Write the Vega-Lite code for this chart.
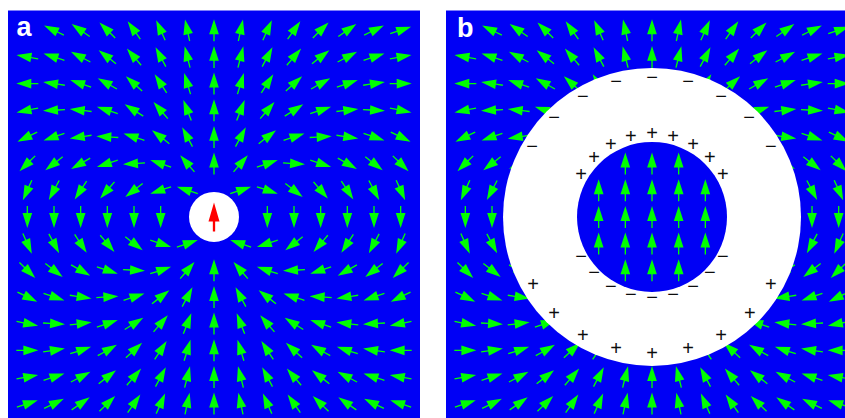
{"$schema":"https://vega.github.io/schema/vega-lite/v6.json","padding":{"left":8,"top":10.5,"right":0,"bottom":0},"background":"white","spacing":26,"bounds":"flush","config":{"view":{"fill":"#0000f5","stroke":null},"axis":{"grid":false}},
"datasets":{"field":[
{"x":-6,"y":7,"a":-63.8},{"x":-5,"y":7,"a":-55.2},{"x":-4,"y":7,"a":-45.7},{"x":-3,"y":7,"a":-35.3},{"x":-2,"y":7,"a":-24.1},{"x":-1,"y":7,"a":-12.2},{"x":0,"y":7,"a":0},{"x":1,"y":7,"a":12.2},{"x":2,"y":7,"a":24.1},{"x":3,"y":7,"a":35.3},{"x":4,"y":7,"a":45.7},{"x":5,"y":7,"a":55.2},{"x":6,"y":7,"a":63.8},{"x":7,"y":7,"a":71.6},
{"x":-7,"y":6,"a":-79.7},{"x":-6,"y":6,"a":-71.6},{"x":-5,"y":6,"a":-62.4},{"x":-4,"y":6,"a":-52.1},{"x":-3,"y":6,"a":-40.6},{"x":-2,"y":6,"a":-27.9},{"x":-1,"y":6,"a":-14.2},{"x":0,"y":6,"a":0},{"x":1,"y":6,"a":14.2},{"x":2,"y":6,"a":27.9},{"x":3,"y":6,"a":40.6},{"x":4,"y":6,"a":52.1},{"x":5,"y":6,"a":62.4},{"x":6,"y":6,"a":71.6},{"x":7,"y":6,"a":79.7},
{"x":-7,"y":5,"a":-89.5},{"x":-6,"y":5,"a":-81.2},{"x":-5,"y":5,"a":-71.6},{"x":-4,"y":5,"a":-60.5},{"x":-3,"y":5,"a":-47.7},{"x":-2,"y":5,"a":-33.1},{"x":-1,"y":5,"a":-17},{"x":0,"y":5,"a":0},{"x":1,"y":5,"a":17},{"x":2,"y":5,"a":33.1},{"x":3,"y":5,"a":47.7},{"x":4,"y":5,"a":60.5},{"x":5,"y":5,"a":71.6},{"x":6,"y":5,"a":81.2},{"x":7,"y":5,"a":89.5},
{"x":-7,"y":4,"a":-101.4},{"x":-6,"y":4,"a":-93.2},{"x":-5,"y":4,"a":-83.4},{"x":-4,"y":4,"a":-71.6},{"x":-3,"y":4,"a":-57.4},{"x":-2,"y":4,"a":-40.6},{"x":-1,"y":4,"a":-21.2},{"x":0,"y":4,"a":0},{"x":1,"y":4,"a":21.2},{"x":2,"y":4,"a":40.6},{"x":3,"y":4,"a":57.4},{"x":4,"y":4,"a":71.6},{"x":5,"y":4,"a":83.4},{"x":6,"y":4,"a":93.2},{"x":7,"y":4,"a":101.4},
{"x":-7,"y":3,"a":-116.2},{"x":-6,"y":3,"a":-108.4},{"x":-5,"y":3,"a":-98.8},{"x":-4,"y":3,"a":-86.8},{"x":-3,"y":3,"a":-71.6},{"x":-2,"y":3,"a":-52.1},{"x":-1,"y":3,"a":-27.9},{"x":0,"y":3,"a":0},{"x":1,"y":3,"a":27.9},{"x":2,"y":3,"a":52.1},{"x":3,"y":3,"a":71.6},{"x":4,"y":3,"a":86.8},{"x":5,"y":3,"a":98.8},{"x":6,"y":3,"a":108.4},{"x":7,"y":3,"a":116.2},
{"x":-7,"y":2,"a":-134.3},{"x":-6,"y":2,"a":-127.9},{"x":-5,"y":2,"a":-119.5},{"x":-4,"y":2,"a":-108.4},{"x":-3,"y":2,"a":-93.2},{"x":-2,"y":2,"a":-71.6},{"x":-1,"y":2,"a":-40.6},{"x":0,"y":2,"a":0},{"x":1,"y":2,"a":40.6},{"x":2,"y":2,"a":71.6},{"x":3,"y":2,"a":93.2},{"x":4,"y":2,"a":108.4},{"x":5,"y":2,"a":119.5},{"x":6,"y":2,"a":127.9},{"x":7,"y":2,"a":134.3},
{"x":-7,"y":1,"a":-155.9},{"x":-6,"y":1,"a":-152.1},{"x":-5,"y":1,"a":-146.9},{"x":-4,"y":1,"a":-139.4},{"x":-3,"y":1,"a":-127.9},{"x":-2,"y":1,"a":-108.4},{"x":-1,"y":1,"a":-71.6},{"x":1,"y":1,"a":71.6},{"x":2,"y":1,"a":108.4},{"x":3,"y":1,"a":127.9},{"x":4,"y":1,"a":139.4},{"x":5,"y":1,"a":146.9},{"x":6,"y":1,"a":152.1},{"x":7,"y":1,"a":155.9},
{"x":-7,"y":0,"a":180},{"x":-6,"y":0,"a":180},{"x":-5,"y":0,"a":180},{"x":-4,"y":0,"a":180},{"x":-3,"y":0,"a":180},{"x":-2,"y":0,"a":180},{"x":2,"y":0,"a":180},{"x":3,"y":0,"a":180},{"x":4,"y":0,"a":180},{"x":5,"y":0,"a":180},{"x":6,"y":0,"a":180},{"x":7,"y":0,"a":180},
{"x":-7,"y":-1,"a":155.9},{"x":-6,"y":-1,"a":152.1},{"x":-5,"y":-1,"a":146.9},{"x":-4,"y":-1,"a":139.4},{"x":-3,"y":-1,"a":127.9},{"x":-2,"y":-1,"a":108.4},{"x":-1,"y":-1,"a":71.6},{"x":1,"y":-1,"a":-71.6},{"x":2,"y":-1,"a":-108.4},{"x":3,"y":-1,"a":-127.9},{"x":4,"y":-1,"a":-139.4},{"x":5,"y":-1,"a":-146.9},{"x":6,"y":-1,"a":-152.1},{"x":7,"y":-1,"a":-155.9},
{"x":-7,"y":-2,"a":134.3},{"x":-6,"y":-2,"a":127.9},{"x":-5,"y":-2,"a":119.5},{"x":-4,"y":-2,"a":108.4},{"x":-3,"y":-2,"a":93.2},{"x":-2,"y":-2,"a":71.6},{"x":-1,"y":-2,"a":40.6},{"x":0,"y":-2,"a":0},{"x":1,"y":-2,"a":-40.6},{"x":2,"y":-2,"a":-71.6},{"x":3,"y":-2,"a":-93.2},{"x":4,"y":-2,"a":-108.4},{"x":5,"y":-2,"a":-119.5},{"x":6,"y":-2,"a":-127.9},{"x":7,"y":-2,"a":-134.3},
{"x":-7,"y":-3,"a":116.2},{"x":-6,"y":-3,"a":108.4},{"x":-5,"y":-3,"a":98.8},{"x":-4,"y":-3,"a":86.8},{"x":-3,"y":-3,"a":71.6},{"x":-2,"y":-3,"a":52.1},{"x":-1,"y":-3,"a":27.9},{"x":0,"y":-3,"a":0},{"x":1,"y":-3,"a":-27.9},{"x":2,"y":-3,"a":-52.1},{"x":3,"y":-3,"a":-71.6},{"x":4,"y":-3,"a":-86.8},{"x":5,"y":-3,"a":-98.8},{"x":6,"y":-3,"a":-108.4},{"x":7,"y":-3,"a":-116.2},
{"x":-7,"y":-4,"a":101.4},{"x":-6,"y":-4,"a":93.2},{"x":-5,"y":-4,"a":83.4},{"x":-4,"y":-4,"a":71.6},{"x":-3,"y":-4,"a":57.4},{"x":-2,"y":-4,"a":40.6},{"x":-1,"y":-4,"a":21.2},{"x":0,"y":-4,"a":0},{"x":1,"y":-4,"a":-21.2},{"x":2,"y":-4,"a":-40.6},{"x":3,"y":-4,"a":-57.4},{"x":4,"y":-4,"a":-71.6},{"x":5,"y":-4,"a":-83.4},{"x":6,"y":-4,"a":-93.2},{"x":7,"y":-4,"a":-101.4},
{"x":-7,"y":-5,"a":89.5},{"x":-6,"y":-5,"a":81.2},{"x":-5,"y":-5,"a":71.6},{"x":-4,"y":-5,"a":60.5},{"x":-3,"y":-5,"a":47.7},{"x":-2,"y":-5,"a":33.1},{"x":-1,"y":-5,"a":17},{"x":0,"y":-5,"a":0},{"x":1,"y":-5,"a":-17},{"x":2,"y":-5,"a":-33.1},{"x":3,"y":-5,"a":-47.7},{"x":4,"y":-5,"a":-60.5},{"x":5,"y":-5,"a":-71.6},{"x":6,"y":-5,"a":-81.2},{"x":7,"y":-5,"a":-89.5},
{"x":-7,"y":-6,"a":79.7},{"x":-6,"y":-6,"a":71.6},{"x":-5,"y":-6,"a":62.4},{"x":-4,"y":-6,"a":52.1},{"x":-3,"y":-6,"a":40.6},{"x":-2,"y":-6,"a":27.9},{"x":-1,"y":-6,"a":14.2},{"x":0,"y":-6,"a":0},{"x":1,"y":-6,"a":-14.2},{"x":2,"y":-6,"a":-27.9},{"x":3,"y":-6,"a":-40.6},{"x":4,"y":-6,"a":-52.1},{"x":5,"y":-6,"a":-62.4},{"x":6,"y":-6,"a":-71.6},{"x":7,"y":-6,"a":-79.7},
{"x":-7,"y":-7,"a":71.6},{"x":-6,"y":-7,"a":63.8},{"x":-5,"y":-7,"a":55.2},{"x":-4,"y":-7,"a":45.7},{"x":-3,"y":-7,"a":35.3},{"x":-2,"y":-7,"a":24.1},{"x":-1,"y":-7,"a":12.2},{"x":0,"y":-7,"a":0},{"x":1,"y":-7,"a":-12.2},{"x":2,"y":-7,"a":-24.1},{"x":3,"y":-7,"a":-35.3},{"x":4,"y":-7,"a":-45.7},{"x":5,"y":-7,"a":-55.2},{"x":6,"y":-7,"a":-63.8},{"x":7,"y":-7,"a":-71.6}
],
"inner":[
{"x":-1,"y":2,"a":0},{"x":0,"y":2,"a":0},{"x":1,"y":2,"a":0},
{"x":-2,"y":1,"a":0},{"x":-1,"y":1,"a":0},{"x":0,"y":1,"a":0},{"x":1,"y":1,"a":0},{"x":2,"y":1,"a":0},
{"x":-2,"y":0,"a":0},{"x":-1,"y":0,"a":0},{"x":0,"y":0,"a":0},{"x":1,"y":0,"a":0},{"x":2,"y":0,"a":0},
{"x":-2,"y":-1,"a":0},{"x":-1,"y":-1,"a":0},{"x":0,"y":-1,"a":0},{"x":1,"y":-1,"a":0},{"x":2,"y":-1,"a":0},
{"x":-1,"y":-2,"a":0},{"x":0,"y":-2,"a":0},{"x":1,"y":-2,"a":0}
],
"charges":[
{"x":0,"y":5.25,"t":"−"},{"x":1.35,"y":5.1,"t":"−"},{"x":2.59,"y":4.54,"t":"−"},{"x":3.64,"y":3.75,"t":"−"},{"x":4.46,"y":2.66,"t":"−"},{"x":-4.5,"y":2.66,"t":"−"},{"x":-3.67,"y":3.75,"t":"−"},{"x":-2.59,"y":4.54,"t":"−"},{"x":-1.35,"y":5.1,"t":"−"},
{"x":-4.46,"y":-2.51,"t":"+"},{"x":-3.67,"y":-3.6,"t":"+"},{"x":-2.59,"y":-4.42,"t":"+"},{"x":-1.35,"y":-4.91,"t":"+"},{"x":0,"y":-5.1,"t":"+"},{"x":1.35,"y":-4.91,"t":"+"},{"x":2.59,"y":-4.42,"t":"+"},{"x":3.67,"y":-3.6,"t":"+"},{"x":4.46,"y":-2.51,"t":"+"},
{"x":-2.66,"y":1.61,"t":"+"},{"x":-2.17,"y":2.25,"t":"+"},{"x":-1.54,"y":2.74,"t":"+"},{"x":-0.79,"y":3.04,"t":"+"},{"x":0,"y":3.15,"t":"+"},{"x":0.79,"y":3.04,"t":"+"},{"x":1.54,"y":2.74,"t":"+"},{"x":2.17,"y":2.25,"t":"+"},{"x":2.66,"y":1.61,"t":"+"},
{"x":-2.66,"y":-1.46,"t":"−"},{"x":-2.17,"y":-2.06,"t":"−"},{"x":-1.54,"y":-2.59,"t":"−"},{"x":-0.79,"y":-2.89,"t":"−"},{"x":0,"y":-3,"t":"−"},{"x":0.79,"y":-2.89,"t":"−"},{"x":1.54,"y":-2.59,"t":"−"},{"x":2.17,"y":-2.06,"t":"−"},{"x":2.66,"y":-1.46,"t":"−"}
]},
"hconcat":[
{"width":412,"height":407.5,
"encoding":{"x":{"field":"x","type":"quantitative","axis":null,"scale":{"domain":[-7.725,7.725],"nice":false,"zero":false}},"y":{"field":"y","type":"quantitative","axis":null,"scale":{"domain":[-7.54,7.74],"nice":false,"zero":false}}},
"layer":[
{"data":{"name":"field"},"mark":{"type":"point","filled":true,"opacity":1,"clip":true,"color":"#00ff00","size":484,"shape":"M0,-1L0.44,0.36L0.06,0.36L0.06,1L-0.06,1L-0.06,0.36L-0.44,0.36Z"},"encoding":{"angle":{"field":"a","type":"quantitative","scale":null}}},
{"data":{"values":[{"x":0,"y":0}]},"mark":{"type":"point","filled":true,"opacity":1,"shape":"circle","color":"#ffffff","size":2500}},
{"data":{"values":[{"x":0,"y":0,"a":0}]},"mark":{"type":"point","filled":true,"opacity":1,"color":"#ff0000","size":841,"shape":"M0,-1L0.38,0.31L0.08,0.31L0.08,1L-0.08,1L-0.08,0.31L-0.38,0.31Z"},"encoding":{"angle":{"field":"a","type":"quantitative","scale":null}}},
{"data":{"values":[{"x":-7.41,"y":6.77,"t":"a"}]},"mark":{"type":"text","font":"Liberation Sans","fontWeight":"bold","fontSize":27,"color":"#ffffff","align":"left","baseline":"alphabetic"},"encoding":{"text":{"field":"t"}}}
]},
{"width":399,"height":407.5,
"encoding":{"x":{"field":"x","type":"quantitative","axis":null,"scale":{"domain":[-7.725,7.237],"nice":false,"zero":false}},"y":{"field":"y","type":"quantitative","axis":null,"scale":{"domain":[-7.54,7.74],"nice":false,"zero":false}}},
"layer":[
{"data":{"name":"field"},"mark":{"type":"point","filled":true,"opacity":1,"clip":true,"color":"#00ff00","size":484,"shape":"M0,-1L0.44,0.36L0.06,0.36L0.06,1L-0.06,1L-0.06,0.36L-0.44,0.36Z"},"encoding":{"angle":{"field":"a","type":"quantitative","scale":null}}},
{"data":{"values":[{"x":0,"y":0}]},"mark":{"type":"point","filled":true,"opacity":1,"shape":"circle","color":"#ffffff","size":88804}},
{"data":{"values":[{"x":0,"y":0}]},"mark":{"type":"point","filled":true,"opacity":1,"shape":"circle","color":"#0000f5","size":22500}},
{"data":{"name":"inner"},"mark":{"type":"point","filled":true,"opacity":1,"color":"#00ff00","size":484,"shape":"M0,-1L0.44,0.36L0.06,0.36L0.06,1L-0.06,1L-0.06,0.36L-0.44,0.36Z"},"encoding":{"angle":{"field":"a","type":"quantitative","scale":null}}},
{"data":{"name":"charges"},"mark":{"type":"text","font":"Liberation Sans","fontSize":20,"dy":1,"color":"#000000","opacity":0.95,"align":"center","baseline":"middle"},"encoding":{"text":{"field":"t"}}},
{"data":{"values":[{"x":-7.31,"y":6.75,"t":"b"}]},"mark":{"type":"text","font":"Liberation Sans","fontWeight":"bold","fontSize":27,"color":"#ffffff","align":"left","baseline":"alphabetic"},"encoding":{"text":{"field":"t"}}}
]}
]}
